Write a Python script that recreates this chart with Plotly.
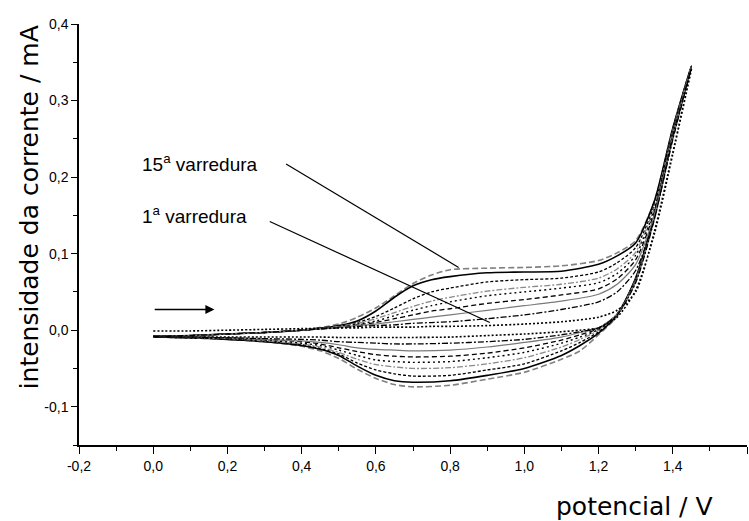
import plotly.graph_objects as go

# potential grids (V)
potencial_ida = [0.0, 0.1, 0.2, 0.3, 0.4, 0.5, 0.55, 0.6, 0.65, 0.7, 0.75, 0.8, 0.9, 1.0, 1.1, 1.2, 1.25, 1.3, 1.35, 1.4, 1.45]
potencial_volta = [1.45, 1.4, 1.35, 1.3, 1.25, 1.2, 1.15, 1.1, 1.0, 0.9, 0.8, 0.7, 0.65, 0.6, 0.55, 0.5, 0.45, 0.4, 0.3, 0.2, 0.1, 0.0]

# current (mA), anodic (ida) and cathodic (volta) branches, outermost (15th) to innermost (1st)
ida_15 = [-0.008, -0.007, -0.005, -0.003, 0.000, 0.008, 0.017, 0.029, 0.045, 0.061, 0.072, 0.079, 0.081, 0.082, 0.084, 0.091, 0.101, 0.117, 0.168, 0.264, 0.345]
volta_15 = [0.345, 0.255, 0.150, 0.068, 0.018, -0.006, -0.027, -0.038, -0.055, -0.064, -0.072, -0.074, -0.071, -0.063, -0.051, -0.037, -0.027, -0.021, -0.015, -0.012, -0.010, -0.009]
ida_13 = [-0.008, -0.007, -0.005, -0.003, 0.000, 0.006, 0.012, 0.025, 0.043, 0.058, 0.066, 0.070, 0.075, 0.076, 0.077, 0.086, 0.097, 0.114, 0.168, 0.264, 0.345]
volta_13 = [0.345, 0.255, 0.150, 0.068, 0.020, -0.004, -0.020, -0.033, -0.050, -0.059, -0.066, -0.068, -0.066, -0.059, -0.047, -0.033, -0.025, -0.020, -0.015, -0.012, -0.010, -0.009]
ida_11 = [-0.008, -0.007, -0.005, -0.003, 0.000, 0.005, 0.010, 0.018, 0.029, 0.041, 0.050, 0.055, 0.063, 0.066, 0.068, 0.076, 0.088, 0.108, 0.163, 0.262, 0.345]
volta_11 = [0.345, 0.254, 0.149, 0.067, 0.021, -0.002, -0.016, -0.027, -0.044, -0.052, -0.059, -0.060, -0.057, -0.052, -0.043, -0.031, -0.024, -0.019, -0.014, -0.011, -0.010, -0.009]
ida_9 = [-0.008, -0.007, -0.005, -0.003, 0.000, 0.005, 0.009, 0.015, 0.023, 0.031, 0.038, 0.043, 0.051, 0.056, 0.060, 0.068, 0.080, 0.102, 0.160, 0.261, 0.344]
volta_9 = [0.344, 0.253, 0.148, 0.066, 0.021, 0.000, -0.012, -0.022, -0.036, -0.044, -0.049, -0.050, -0.048, -0.045, -0.038, -0.029, -0.022, -0.018, -0.014, -0.011, -0.010, -0.009]
ida_7 = [-0.008, -0.007, -0.005, -0.003, 0.000, 0.004, 0.008, 0.012, 0.019, 0.026, 0.032, 0.037, 0.045, 0.050, 0.055, 0.062, 0.074, 0.098, 0.157, 0.260, 0.344]
volta_7 = [0.344, 0.252, 0.147, 0.065, 0.021, 0.001, -0.009, -0.017, -0.029, -0.036, -0.041, -0.042, -0.041, -0.039, -0.033, -0.026, -0.020, -0.017, -0.013, -0.011, -0.010, -0.009]
ida_5 = [-0.008, -0.007, -0.005, -0.003, 0.000, 0.004, 0.007, 0.010, 0.015, 0.020, 0.025, 0.028, 0.035, 0.040, 0.046, 0.054, 0.067, 0.092, 0.154, 0.258, 0.343]
volta_5 = [0.343, 0.251, 0.146, 0.064, 0.021, 0.002, -0.006, -0.013, -0.023, -0.030, -0.034, -0.035, -0.034, -0.032, -0.028, -0.023, -0.018, -0.015, -0.012, -0.010, -0.009, -0.009]
ida_4 = [-0.008, -0.007, -0.005, -0.003, 0.000, 0.004, 0.006, 0.008, 0.011, 0.014, 0.017, 0.020, 0.026, 0.032, 0.038, 0.047, 0.060, 0.086, 0.150, 0.256, 0.343]
volta_4 = [0.343, 0.250, 0.145, 0.063, 0.021, 0.003, -0.003, -0.009, -0.016, -0.022, -0.026, -0.027, -0.026, -0.025, -0.023, -0.019, -0.016, -0.014, -0.012, -0.010, -0.009, -0.009]
ida_2 = [-0.008, -0.007, -0.005, -0.003, 0.000, 0.003, 0.005, 0.006, 0.007, 0.009, 0.010, 0.011, 0.015, 0.020, 0.027, 0.037, 0.050, 0.078, 0.145, 0.254, 0.342]
volta_2 = [0.342, 0.249, 0.144, 0.062, 0.020, 0.003, -0.002, -0.006, -0.012, -0.015, -0.017, -0.018, -0.018, -0.017, -0.016, -0.015, -0.013, -0.012, -0.011, -0.010, -0.009, -0.009]
ida_1 = [-0.001, -0.001, 0.000, 0.001, 0.002, 0.003, 0.003, 0.004, 0.004, 0.004, 0.005, 0.005, 0.006, 0.008, 0.011, 0.017, 0.026, 0.050, 0.128, 0.232, 0.340]
volta_1 = [0.340, 0.230, 0.125, 0.052, 0.017, 0.003, 0.000, -0.002, -0.005, -0.007, -0.009, -0.0095, -0.0095, -0.0095, -0.0095, -0.0095, -0.009, -0.009, -0.009, -0.009, -0.009, -0.009]

varreduras = [
    (ida_15, volta_15, "#808080", "6px,3px", 1.6),
    (ida_13, volta_13, "#000000", "solid", 1.6),
    (ida_11, volta_11, "#000000", "3px,2px", 1.3),
    (ida_9, volta_9, "#8a8a8a", "6px,2px,2px,2px", 1.3),
    (ida_7, volta_7, "#000000", "2px,3px", 1.4),
    (ida_5, volta_5, "#000000", "5px,3px", 1.3),
    (ida_4, volta_4, "#7a7a7a", "solid", 1.2),
    (ida_2, volta_2, "#000000", "6px,2px,2px,2px", 1.3),
    (ida_1, volta_1, "#000000", "2px,2px", 1.6),
]

x_ticks = [-0.2, 0.0, 0.2, 0.4, 0.6, 0.8, 1.0, 1.2, 1.4, 1.6]
x_ticktext = ["-0,2", "0,0", "0,2", "0,4", "0,6", "0,8", "1,0", "1,2", "1,4", "1,6"]
y_ticks = [-0.1, 0.0, 0.1, 0.2, 0.3, 0.4]
y_ticktext = ["-0,1", "0,0", "0,1", "0,2", "0,3", "0,4"]

fig = go.Figure()
for ida, volta, cor, estilo, largura in varreduras:
    fig.add_trace(go.Scatter(
        x=potencial_ida + potencial_volta[1:], y=ida + volta[1:],
        mode="lines", line=dict(color=cor, dash=estilo, width=largura, shape="spline", smoothing=0.7),
        showlegend=False, hoverinfo="skip"))

tick_font = dict(family="Liberation Sans, Arial", size=14, color="black")
fig.update_layout(
    width=749, height=521,
    margin=dict(l=79, r=2, t=24, b=76),
    paper_bgcolor="white", plot_bgcolor="white",
    xaxis=dict(range=[-0.2, 1.6], tickmode="array", tickvals=x_ticks, ticktext=x_ticktext,
               showline=True, linecolor="black", linewidth=1.5, ticks="outside", ticklen=7,
               tickwidth=1.2, tickcolor="black", showgrid=False, zeroline=False, tickfont=tick_font,
               automargin=False,
               minor=dict(tickmode="linear", tick0=-0.1, dtick=0.2, ticks="outside", ticklen=4,
                          tickcolor="black", tickwidth=1.2, showgrid=False)),
    yaxis=dict(range=[-0.15, 0.4], tickmode="array", tickvals=y_ticks, ticktext=y_ticktext,
               showline=True, linecolor="black", linewidth=1.5, ticks="outside", ticklen=6,
               tickwidth=1.2, tickcolor="black", showgrid=False, zeroline=False, tickfont=tick_font,
               automargin=False,
               minor=dict(tickmode="linear", tick0=-0.15, dtick=0.1, ticks="outside", ticklen=4,
                          tickcolor="black", tickwidth=1.2, showgrid=False)),
)

title_font = dict(family="DejaVu Sans", size=25, color="black")
fig.add_annotation(text="intensidade da corrente / mA", xref="paper", yref="paper",
                   x=-0.0745, y=0.565, textangle=-90, showarrow=False, font=title_font,
                   xanchor="center", yanchor="middle")
fig.add_annotation(text="potencial / V", xref="paper", yref="paper",
                   x=0.832, y=-0.145, showarrow=False, font=title_font,
                   xanchor="center", yanchor="middle")

lab_font = dict(family="Liberation Sans, Arial", size=19, color="black")
fig.add_annotation(text="15<sup>a</sup> varredura", x=-0.035, y=0.219, xref="x", yref="y",
                   showarrow=False, font=lab_font, xanchor="left", yanchor="middle")
fig.add_annotation(text="1<sup>a</sup> varredura", x=-0.035, y=0.151, xref="x", yref="y",
                   showarrow=False, font=lab_font, xanchor="left", yanchor="middle")

fig.add_shape(type="line", x0=0.358, y0=0.217, x1=0.823, y1=0.082, xref="x", yref="y",
              line=dict(color="black", width=1.2))
fig.add_shape(type="line", x0=0.314, y0=0.142, x1=0.907, y1=0.010, xref="x", yref="y",
              line=dict(color="black", width=1.2))

fig.add_annotation(x=0.165, y=0.027, ax=0.0, ay=0.027, xref="x", yref="y", axref="x", ayref="y",
                   text="", showarrow=True, arrowhead=2, arrowsize=1.4, arrowwidth=1.3,
                   arrowcolor="black")

fig.write_html("out.html")
